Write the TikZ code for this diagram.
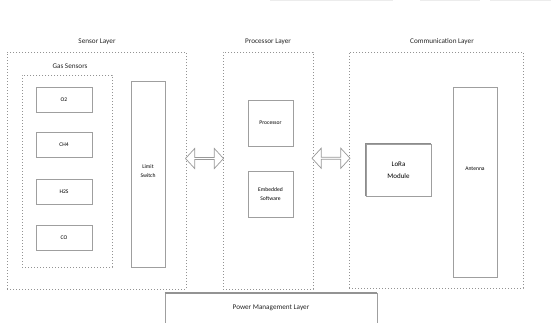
\documentclass[tikz,border=0pt]{standalone}
\usepackage{fontspec}
\setmainfont{Carlito}
\usepackage{tikz}
\usetikzlibrary{shapes.arrows, calc}

\begin{document}
\begin{tikzpicture}[
  x=1pt, y=-1pt,
  layerbox/.style={rectangle, draw=gray!85, line width=0.8pt, dash pattern=on 0.9pt off 2.1pt,
                   inner sep=0pt},
  compbox/.style={rectangle, draw=gray!75, line width=0.8pt, fill=white, inner sep=1pt,
                  align=center, font=\fontsize{5.6}{7}\selectfont},
  ttl/.style={font=\fontsize{7.2}{8}\selectfont, text=black!85},
  dblarr/.style={double arrow, draw=gray!80, fill=white, line width=0.7pt, inner sep=0pt,
                 minimum height=38pt, minimum width=20pt, double arrow head extend=3.5pt,
                 double arrow tip angle=95}
]
\clip (0,0) rectangle (551,322);
\fill[white] (0,0) rectangle (551,322);
%% faint edge lines at the top
\draw[gray!15, line width=1pt] (270,0) -- (393,0) (420,0) -- (480,0) (490,0) -- (551,0);
%% Sensor layer
\node[layerbox, minimum width=179pt, minimum height=237pt] (sensor) at (96.5,170.5) {};
\node[ttl] (sensorttl) at (97,42) {Sensor Layer};
\node[layerbox, minimum width=90pt, minimum height=192pt] (gas) at (67,171) {};
\node[ttl] (gasttl) at (70,66) {Gas Sensors};
\node[compbox, minimum width=56pt, minimum height=25pt] (o2)  at (64,99.5) {O2};
\node[compbox, minimum width=56pt, minimum height=25pt] (ch4) at (64,145) {CH4};
\node[compbox, minimum width=56pt, minimum height=25pt] (h2s) at (64,192) {H2S};
\node[compbox, minimum width=56pt, minimum height=25pt] (co)  at (64,238) {CO};
\node[compbox, minimum width=34pt, minimum height=186pt] (limit) at (148,174) {};
\node[font=\fontsize{5.6}{9}\selectfont, align=center] (limitlbl) at (148,171) {Limit\\Switch};
%% Processor layer
\node[layerbox, minimum width=90pt, minimum height=237pt] (proc) at (268,170.5) {};
\node[ttl] (procttl) at (268,42) {Processor Layer};
\node[compbox, minimum width=45pt, minimum height=46pt] (cpu) at (270.5,123) {Processor};
\node[compbox, minimum width=45pt, minimum height=46pt, font=\fontsize{5.6}{9}\selectfont] (sw) at (270.5,194) {Embedded\\Software};
%% Communication layer
\node[layerbox, minimum width=174pt, minimum height=236pt] (comm) at (436,170) {};
\node[ttl] (commttl) at (442,42) {Communication Layer};
\node[compbox, minimum width=65pt, minimum height=52pt, font=\fontsize{7}{12}\selectfont] (lora) at (398.5,170) {LoRa\\Module};
\draw[gray!90, line width=1.2pt] (lora.south west) -- (lora.north west) -- (lora.north east);
\node[compbox, minimum width=44pt, minimum height=190pt] (antenna) at (475,182) {};
\node[font=\fontsize{5.6}{7}\selectfont] (antlbl) at (475,169) {Antenna};
%% Power management layer
\node[compbox, minimum width=212pt, minimum height=50pt, anchor=north] (power) at (271,293) {};
\draw[gray!85, line width=1.2pt] (power.north west) -- (power.north east);
\node[ttl] (powerttl) at (271,308) {Power Management Layer};
%% links between layers
\node[dblarr] (link1) at ($(sensor.east)!0.5!(proc.west) + (0,-12)$) {};
\node[dblarr] (link2) at ($(proc.east)!0.5!(comm.west) + (0,-12)$) {};
\end{tikzpicture}
\end{document}
